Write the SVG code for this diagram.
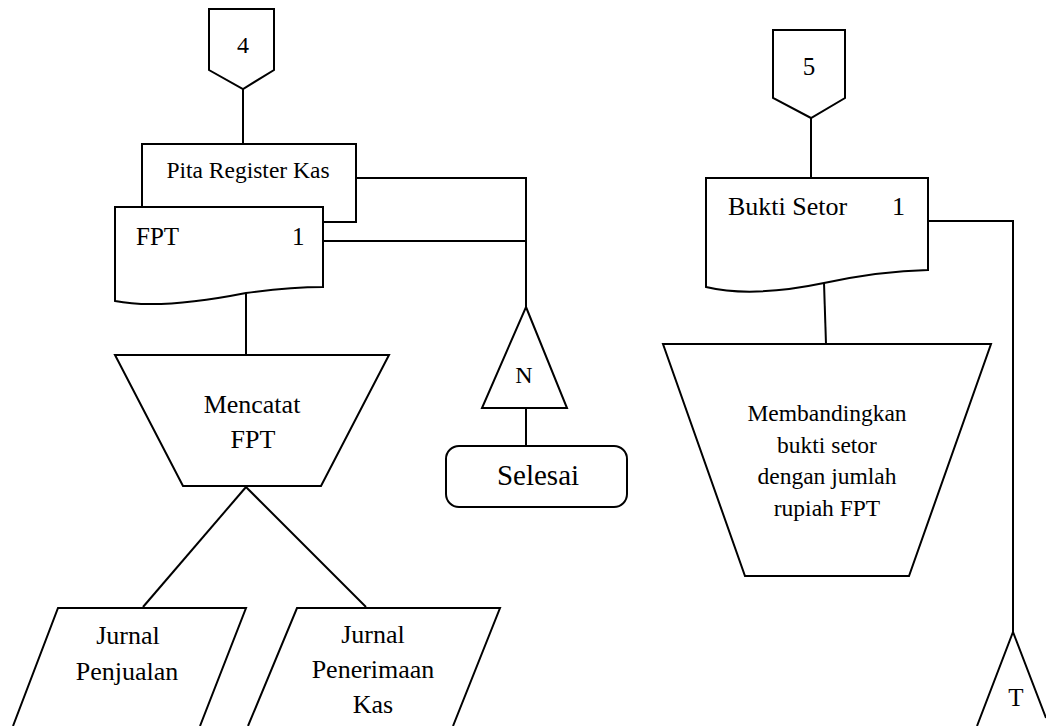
<svg xmlns="http://www.w3.org/2000/svg" width="1046" height="726" viewBox="0 0 1046 726" font-family="'Liberation Serif', 'Times New Roman', serif">
<style>
.s{fill:#fff;stroke:#000;stroke-width:2;stroke-linejoin:miter}
.l{fill:none;stroke:#000;stroke-width:2}
.c{text-anchor:middle}
</style>
<rect width="1046" height="726" fill="#fff"/>
<g id="connectors">
<path class="l" d="M243,89 L243,144"/>
<path class="l" d="M356,178 L526,178 L526,307"/>
<path class="l" d="M323,241 L526,241"/>
<path class="l" d="M246,293 L246,355"/>
<path class="l" d="M246,487 L143,607"/>
<path class="l" d="M246,487 L366,607"/>
<path class="l" d="M526,408 L526,446"/>
<path class="l" d="M811,118 L811,178"/>
<path class="l" d="M928,221 L1013,221 L1013,632"/>
<path class="l" d="M824,283 L826,344"/>
</g>
<g id="off4">
<polygon class="s" points="209,9 274,9 274,70 243,89 209,70"/>
<text class="c" x="243" y="53" font-size="24">4</text>
</g>
<g id="pita">
<rect class="s" x="142" y="144" width="214" height="78"/>
<text class="c" x="248" y="178" font-size="23.5">Pita Register Kas</text>
</g>
<g id="fpt">
<path class="s" d="M115,207 L323,207 L323,287 Q290,287 246,293 Q160,310 115,301 Z"/>
<text x="136" y="245" font-size="25">FPT</text>
<text x="292" y="245" font-size="25">1</text>
</g>
<g id="mencatat">
<polygon class="s" points="115,355 389,355 321,486 183,486"/>
<text class="c" x="252" y="413" font-size="26">Mencatat</text>
<text class="c" x="253" y="448" font-size="26">FPT</text>
</g>
<g id="jurnal-penjualan">
<path class="s" d="M13,726 L58,608 L246,608 L200,726"/>
<text class="c" x="128" y="644" font-size="26">Jurnal</text>
<text class="c" x="127" y="680" font-size="26">Penjualan</text>
</g>
<g id="jurnal-penerimaan">
<path class="s" d="M248,726 L297,608 L500,608 L453,726"/>
<text class="c" x="373" y="643" font-size="26">Jurnal</text>
<text class="c" x="373" y="678" font-size="26">Penerimaan</text>
<text class="c" x="373" y="713" font-size="26">Kas</text>
</g>
<g id="n">
<polygon class="s" points="526,307 567,408 482,408"/>
<text class="c" x="524" y="383" font-size="24">N</text>
</g>
<g id="selesai">
<rect class="s" x="446" y="446" width="181" height="61" rx="13"/>
<text class="c" x="538" y="485" font-size="29">Selesai</text>
</g>
<g id="off5">
<polygon class="s" points="773,30 845,30 845,98 811,118 773,98"/>
<text class="c" x="809" y="75" font-size="25">5</text>
</g>
<g id="bukti">
<path class="s" d="M706,178 L928,178 L928,270 Q880,271 824,283 Q752,298 706,287 Z"/>
<text x="728" y="215" font-size="26">Bukti Setor</text>
<text x="892" y="215" font-size="26">1</text>
</g>
<g id="membandingkan">
<polygon class="s" points="663,344 991,344 909,576 745,576"/>
<text class="c" x="827" y="421" font-size="23.5">Membandingkan</text>
<text class="c" x="827" y="453" font-size="23.5">bukti setor</text>
<text class="c" x="827" y="484" font-size="23.5">dengan jumlah</text>
<text class="c" x="827" y="516" font-size="23.5">rupiah FPT</text>
</g>
<g id="t">
<path class="s" d="M977,726 L1013,632 L1046,718"/>
<text class="c" x="1016" y="706" font-size="25">T</text>
</g>
</svg>
